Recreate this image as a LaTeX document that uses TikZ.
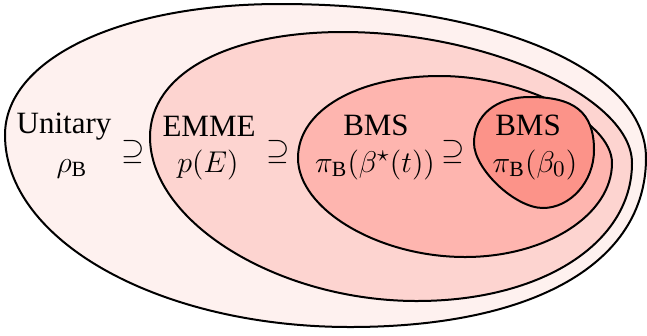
\documentclass[tikz,border=0pt]{standalone}
\usepackage{fontspec}
\setmainfont{Liberation Serif}
\definecolor{setA}{RGB}{254,241,239}
\definecolor{setB}{RGB}{253,212,208}
\definecolor{setC}{RGB}{254,181,175}
\definecolor{setD}{RGB}{252,147,137}
\tikzset{
  region/.style={draw=black, line width=0.8pt},
  lab/.style={anchor=base, inner sep=0pt, font=\fontsize{12.4}{15}\selectfont},
  sub/.style={inner sep=0pt, font=\fontsize{12.4}{15}\selectfont}
}
\begin{document}
\begin{tikzpicture}[x=0.4pt, y=-0.4pt]
\useasboundingbox (0,0) rectangle (647,335);

\draw[region, fill=setA] (5,135) .. controls (5,59) and (120,4) .. (280,4)
  .. controls (492,4) and (646,69) .. (646,158)
  .. controls (646,263) and (534,327) .. (350,327)
  .. controls (160,327) and (5,241) .. cycle;
\draw[region, fill=setB] (150,137) .. controls (150,74) and (227,32) .. (343,32)
  .. controls (488,32) and (632,98) .. (632,163)
  .. controls (632,243) and (542,301) .. (417,301)
  .. controls (278,301) and (150,222) .. cycle;
\draw[region, fill=setC] (298,158) .. controls (298,110) and (358,76) .. (440,76)
  .. controls (523,76) and (612,121) .. (612,163)
  .. controls (612,215) and (546,257) .. (465,257)
  .. controls (378,257) and (298,209) .. cycle;
\draw[region, fill=setD] (474,143) .. controls (474,115) and (496,97) .. (530,97)
  .. controls (574,97) and (594,112) .. (594,150)
  .. controls (594,182) and (570,208) .. (543,208)
  .. controls (515,208) and (474,169) .. cycle;

\node[lab] (unitary) at (64,133) {Unitary};
\node[lab] (rhoB) at (72,172) {$\rho_{\mathrm{B}}$};
\node[sub] (sup1) at (133,152) {$\supseteq$};

\node[lab] (emme) at (209,136) {EMME};
\node[lab] (pE) at (208,172) {$p(E)$};
\node[sub] (sup2) at (278,152) {$\supseteq$};

\node[lab] (bms) at (376,135) {BMS};
\node[lab] (piBt) at (375,172) {$\pi_{\mathrm{B}}(\beta^\star(t))$};
\node[sub] (sup3) at (453,152) {$\supseteq$};

\node[lab] (bmsz) at (528,135) {BMS};
\node[lab] (piBz) at (535,172) {$\pi_{\mathrm{B}}(\beta_0)$};
\end{tikzpicture}
\end{document}
